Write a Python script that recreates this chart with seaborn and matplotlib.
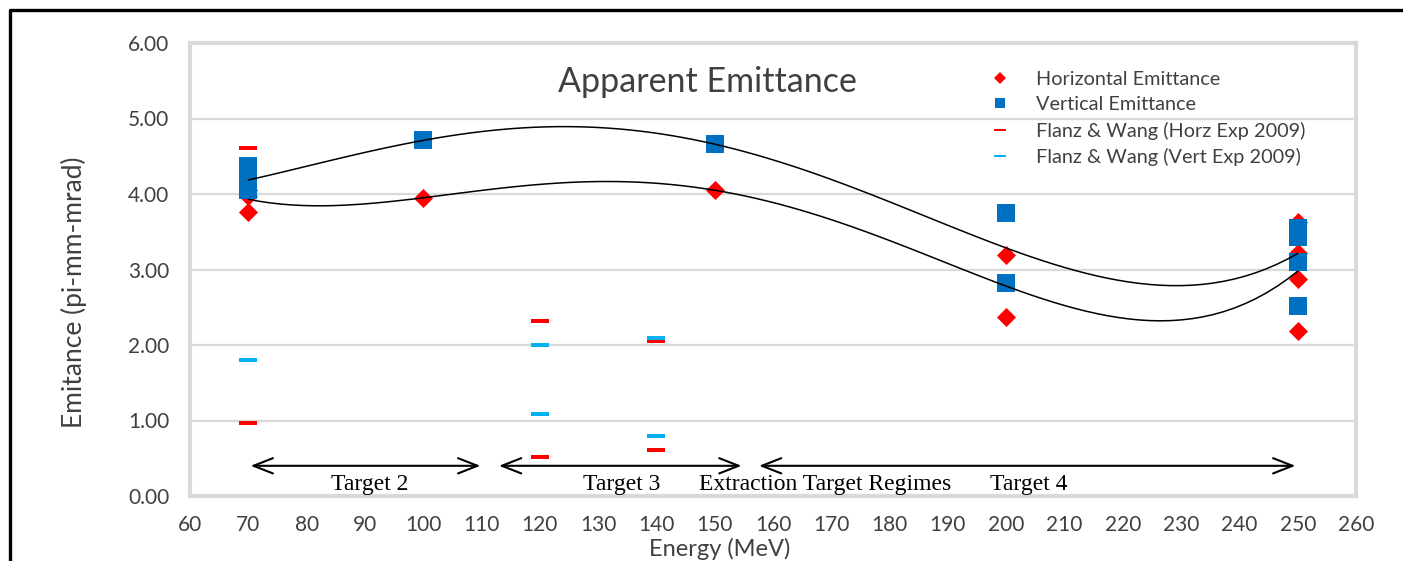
import numpy as np
import pandas as pd
import matplotlib
matplotlib.use("Agg")
import matplotlib.pyplot as plt
from matplotlib.lines import Line2D
import seaborn as sns

# ---- data ----
horiz_energy = [70, 70, 70, 100, 150, 200, 200, 250, 250, 250, 250]
horiz_emit = [3.76, 3.98, 4.05, 3.95, 4.05, 3.19, 2.37, 3.63, 3.22, 2.87, 2.19]

vert_energy = [70, 70, 70, 70, 100, 150, 200, 200, 250, 250, 250, 250, 250]
vert_emit = [4.37, 4.22, 4.10, 4.05, 4.71, 4.66, 3.75, 2.82, 3.55, 3.47, 3.43, 3.10, 2.51]

fw_h_energy = [70, 70, 120, 120, 140, 140]
fw_h_emit = [4.61, 0.97, 2.32, 0.51, 2.05, 0.61]

fw_v_energy = [70, 120, 120, 140, 140]
fw_v_emit = [1.80, 2.00, 1.09, 2.09, 0.79]

regimes = ["Target 2", "Target 3", "Extraction Target Regimes", "Target 4"]
regime_text_x = [90.8, 134.1, 169.0, 203.9]
arrow_spans = [(70.4, 109.8), (113.0, 154.6), (157.6, 249.6)]

title = "Apparent Emittance"
labels = ["Horizontal Emittance", "Vertical Emittance",
          "Flanz & Wang (Horz Exp 2009)", "Flanz & Wang (Vert Exp 2009)"]

RED = "#FF0000"
BLUE = "#0070C0"
CYAN = "#00B0F0"
GRID = "#D9D9D9"
TXT = "#404040"

sns.set_theme(style="white")
plt.rcParams["font.family"] = ["Lato", "DejaVu Sans"]

fig = plt.figure(figsize=(14.03, 5.61), dpi=100)
ax = fig.add_axes([190/1403, 1-496/561, (1356-190)/1403, (496-43)/561])

df_h = pd.DataFrame({"E": horiz_energy, "v": horiz_emit})
df_v = pd.DataFrame({"E": vert_energy, "v": vert_emit})
df_fh = pd.DataFrame({"E": fw_h_energy, "v": fw_h_emit})
df_fv = pd.DataFrame({"E": fw_v_energy, "v": fw_v_emit})

dash = [(-1, -0.235), (1, -0.235), (1, 0.235), (-1, 0.235), (-1, -0.235)]

sns.scatterplot(data=df_h, x="E", y="v", marker="D", s=94, color=RED,
                linewidth=0, ax=ax, zorder=3)
sns.scatterplot(data=df_v, x="E", y="v", marker="s", s=187, color=BLUE,
                linewidth=0, ax=ax, zorder=4)
sns.scatterplot(data=df_fh, x="E", y="v", marker=dash, s=150, color=RED,
                linewidth=0, ax=ax, zorder=5)
sns.scatterplot(data=df_fv, x="E", y="v", marker=dash, s=150, color=CYAN,
                linewidth=0, ax=ax, zorder=6)

sns.regplot(data=df_v, x="E", y="v", order=4, ci=None, scatter=False,
            line_kws=dict(color="black", lw=1.1, zorder=7), ax=ax)
sns.regplot(data=df_h, x="E", y="v", order=4, ci=None, scatter=False,
            line_kws=dict(color="black", lw=1.1, zorder=7), ax=ax)

ax.set_xlim(60, 260)
ax.set_ylim(0, 6)
ax.set_xticks(np.arange(60, 261, 10))
ax.set_yticks(np.arange(0, 6.01, 1))
ax.set_yticklabels([f"{t:.2f}" for t in np.arange(0, 6.01, 1)])
ax.tick_params(axis="both", length=0, labelsize=15, colors=TXT)
ax.tick_params(axis="y", pad=15)
ax.tick_params(axis="x", pad=14)
ax.grid(axis="y", color=GRID, lw=1.6, zorder=0)
ax.set_axisbelow(True)
for sp in ax.spines.values():
    sp.set_visible(True)
    sp.set_color(GRID)
    sp.set_linewidth(3)

ax.set_xlabel("Energy (MeV)", fontsize=17, color=TXT, labelpad=0)
ax.set_ylabel("Emitance (pi-mm-mrad)", fontsize=19, color=TXT, labelpad=0)
ax.yaxis.set_label_coords(-(190-74)/1166, 0.45)
ax.yaxis.label.set_va("center")
ax.xaxis.set_label_coords((720-190)/1166, -(549-496)/453)
ax.xaxis.label.set_va("center")

ax.text(148.8, 5.49, title, fontsize=24.5, color=TXT, ha="center", va="center")

# regime arrows and labels
for (a, b) in arrow_spans:
    ax.annotate("", xy=(b, 0.40), xytext=(a, 0.40),
                arrowprops=dict(arrowstyle="<->,head_length=1.4,head_width=0.55",
                                lw=1.5, color="black", shrinkA=0, shrinkB=0,
                                mutation_scale=10), zorder=8)
for name, x in zip(regimes, regime_text_x):
    ax.text(x, 0.08, name, fontsize=17, family=["Liberation Serif", "DejaVu Serif"],
            color="black", ha="center", va="baseline")

# legend
handles = [
    Line2D([], [], ls="none", marker="D", markersize=6.3, color=RED, mew=0),
    Line2D([], [], ls="none", marker="s", markersize=7.4, color=BLUE, mew=0),
    Line2D([], [], ls="none", marker=dash, markersize=8.5, color=RED, mew=0),
    Line2D([], [], ls="none", marker=dash, markersize=8.5, color=CYAN, mew=0),
]
leg = ax.legend(handles, labels, loc="upper left", frameon=False,
                bbox_to_anchor=(988/1403, 1-71/561), bbox_transform=fig.transFigure,
                fontsize=14.3, labelspacing=0.42, handletextpad=1.2,
                handlelength=1.2, borderpad=0, borderaxespad=0)
for t in leg.get_texts():
    t.set_color(TXT)

# outer black frame
fig.add_artist(Line2D([10/1403, 1.0], [1-10/561, 1-10/561], color="black", lw=2.4,
                      transform=fig.transFigure))
fig.add_artist(Line2D([10/1403, 10/1403], [1-10/561, 0.0], color="black", lw=2.4,
                      transform=fig.transFigure))

fig.savefig("out.png", dpi=100)
